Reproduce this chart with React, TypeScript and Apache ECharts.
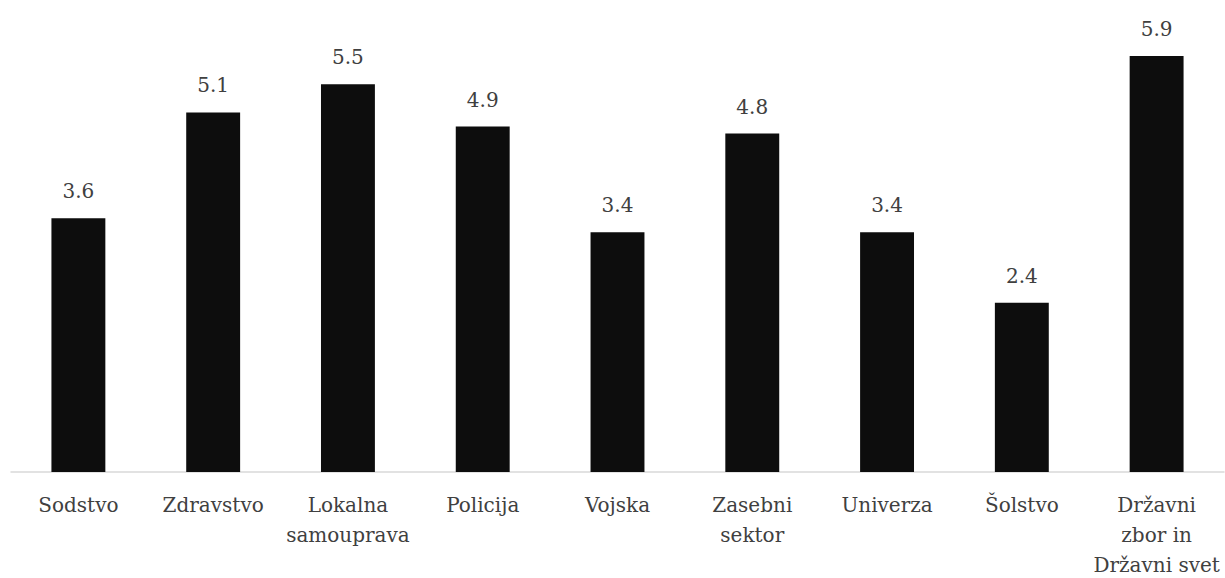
import React, { useEffect, useRef } from "react";
import * as echarts from "echarts";

// Institutions shown along the x axis
const categories: string[] = [
  "Sodstvo",
  "Zdravstvo",
  "Lokalna\nsamouprava",
  "Policija",
  "Vojska",
  "Zasebni\nsektor",
  "Univerza",
  "Šolstvo",
  "Državni\nzbor in\nDržavni svet",
];

// Average score per institution
const values: number[] = [3.6, 5.1, 5.5, 4.9, 3.4, 4.8, 3.4, 2.4, 5.9];

const FONT = "'DejaVu Serif', serif";
const TEXT_COLOR = "#404040";

export default function App() {
  const ref = useRef<HTMLDivElement>(null);

  useEffect(() => {
    if (!ref.current) return;
    const chart = echarts.init(ref.current, null, { renderer: "svg" });
    chart.setOption({
      animation: false,
      backgroundColor: "#ffffff",
      grid: {
        left: 11,
        right: 1,
        top: 49,
        bottom: 106,
        containLabel: false,
        outerBoundsMode: "none",
      },
      xAxis: {
        type: "category",
        data: categories,
        axisLine: { show: true, lineStyle: { color: "#d9d9d9", width: 1.5 } },
        axisTick: { show: false },
        axisLabel: {
          interval: 0,
          margin: 18,
          color: TEXT_COLOR,
          fontFamily: FONT,
          fontSize: 20,
          lineHeight: 30,
          align: "center",
        },
      },
      yAxis: {
        type: "value",
        min: 0,
        max: 6,
        show: false,
        splitLine: { show: false },
      },
      series: [
        {
          type: "bar",
          data: values,
          barWidth: "40%",
          itemStyle: { color: "#0d0d0d" },
          label: {
            show: true,
            position: "top",
            distance: 17,
            color: TEXT_COLOR,
            fontFamily: FONT,
            fontSize: 20,
            formatter: (p: any) => Number(p.value).toFixed(1),
          },
        },
      ],
    });
    return () => chart.dispose();
  }, []);

  return (
    <div
      ref={ref}
      style={{ position: "fixed", left: 0, top: 0, width: 1225, height: 578 }}
    />
  );
}
